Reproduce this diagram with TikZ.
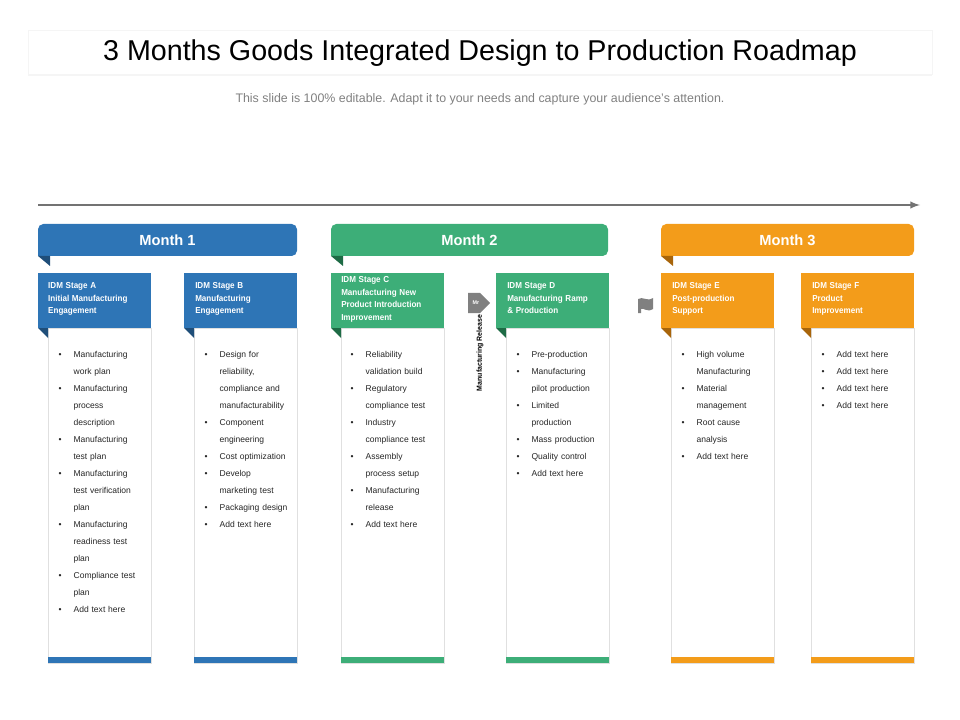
\documentclass[tikz,border=0pt]{standalone}
\usepackage{fontspec}
\setmainfont{Liberation Sans}
\usetikzlibrary{positioning,calc,shadows}
\definecolor{mblue}{HTML}{2E75B6}
\definecolor{mgreen}{HTML}{3DAE78}
\definecolor{morange}{HTML}{F39C1A}
\definecolor{dblue}{HTML}{1F4E79}
\definecolor{dgreen}{HTML}{1E6B45}
\definecolor{dorange}{HTML}{A8650B}
\newcommand{\steplist}[1]{\begin{list}{\textbullet}{\leftmargin=13pt\labelwidth=4pt\labelsep=9pt\itemsep=0pt\parsep=0pt\topsep=0pt\partopsep=0pt}\setlength{\baselineskip}{12.75pt}#1\end{list}}
\begin{document}
\begin{tikzpicture}[x=0.75pt,y=-0.75pt,
    monthbox/.style={font=\bfseries\fontsize{11}{13}\selectfont, text=white},
    headbox/.style={font=\bfseries\fontsize{6.5}{9.6}\selectfont, text=white, align=left, anchor=north west, text width=90pt, inner sep=0pt, xscale=0.93},
    panelbox/.style={draw=black!12, fill=white},
    itemtext/.style={font=\fontsize{6.4}{12.75}\selectfont, text=black!85, anchor=north west, text width=75pt, inner sep=0pt}
]
\useasboundingbox (0,0) rectangle (960,720);
% title
\node[draw=black!4, fill=white, drop shadow={opacity=0.08, shadow xshift=0pt, shadow yshift=-1.5pt}, minimum width=678pt, minimum height=33pt] (title) at (480,52) {};
\node[font=\fontsize{21.5}{24}\selectfont] (titletext) at (480,53) {3 Months Goods Integrated Design to Production Roadmap};
\node[font=\fontsize{9.3}{11}\selectfont, text=black!50] (sub) at (480,99) {This slide is 100\% editable. Adapt it to your needs and capture your audience's attention.};
% timeline
\coordinate (tl0) at (38,205);
\coordinate (tl1) at (920,205);
\draw[black!55, line width=1.5pt, -latex] (tl0) -- (tl1);
% month banners
\foreach \x/\w/\c/\d/\t in {38/259/mblue/dblue/Month 1, 331/277/mgreen/dgreen/Month 2, 661/253/morange/dorange/Month 3} {
    \fill[\c, rounded corners=4pt] (\x,256) -- (\x,224) -- (\x+\w,224) -- (\x+\w,256) -- cycle;
    \fill[\c] (\x,240) rectangle (\x+10,256);
    \fill[\d] (\x,256) -- (\x+12,256) -- (\x+12,266) -- cycle;
    \node[monthbox] at (\x+\w/2,240) {\t};
}
% stages
\foreach \x/\c/\d in {38/mblue/dblue, 184/mblue/dblue, 331/mgreen/dgreen, 496/mgreen/dgreen, 661/morange/dorange, 801/morange/dorange} {
    \draw[panelbox] (\x+10,328) rectangle (\x+113,663);
    \fill[\c] (\x+10,657) rectangle (\x+113,663);
    \fill[\c] (\x,273) rectangle (\x+113,328);
    \fill[\d] (\x,328) -- (\x+10,328) -- (\x+10,338) -- cycle;
}
\node[headbox] (hA) at (48,282) {IDM Stage A\\Initial Manufacturing\\Engagement};
\node[headbox] (hB) at (195,282) {IDM Stage B\\Manufacturing\\Engagement};
\node[headbox] (hC) at (341,276) {IDM Stage C\\Manufacturing New\\Product Introduction\\Improvement};
\node[headbox] (hD) at (507,282) {IDM Stage D\\Manufacturing Ramp\\\& Production};
\node[headbox] (hE) at (672,282) {IDM Stage E\\Post-production\\Support};
\node[headbox] (hF) at (812,282) {IDM Stage F\\Product\\Improvement};
% lists
\node[itemtext] (lA) at (56,340) {\steplist{\item Manufacturing\\work plan \item Manufacturing\\process\\description \item Manufacturing\\test plan \item Manufacturing\\test verification\\plan \item Manufacturing\\readiness test\\plan \item Compliance test\\plan \item Add text here}};
\node[itemtext] (lB) at (202,340) {\steplist{\item Design for\\reliability,\\compliance and\\manufacturability \item Component\\engineering \item Cost optimization \item Develop\\marketing test \item Packaging design \item Add text here}};
\node[itemtext] (lC) at (348,340) {\steplist{\item Reliability\\validation build \item Regulatory\\compliance test \item Industry\\compliance test \item Assembly\\process setup \item Manufacturing\\release \item Add text here}};
\node[itemtext] (lD) at (514,340) {\steplist{\item Pre-production \item Manufacturing\\pilot production \item Limited\\production \item Mass production \item Quality control \item Add text here}};
\node[itemtext] (lE) at (679,340) {\steplist{\item High volume\\Manufacturing \item Material\\management \item Root cause\\analysis \item Add text here}};
\node[itemtext] (lF) at (819,340) {\steplist{\item Add text here \item Add text here \item Add text here \item Add text here}};
% release marker
\fill[black!50] (468,293) -- (480,293) -- (490,303) -- (480,313) -- (468,313) -- cycle;
\node[font=\bfseries\fontsize{4}{4}\selectfont, text=white, inner sep=0pt] (mr) at (476,303) {Mr};
\node[font=\bfseries\fontsize{5.5}{6}\selectfont, rotate=90, xscale=0.95] (rel) at (480,353) {Manufacturing Release};
% flag icon
\fill[black!50] (638,313) -- (638,299) .. controls (643,296) and (647,302) .. (653,298) -- (653,309) .. controls (647,313) and (643,307) .. (641,309) -- (641,313) -- cycle;
\end{tikzpicture}
\end{document}
